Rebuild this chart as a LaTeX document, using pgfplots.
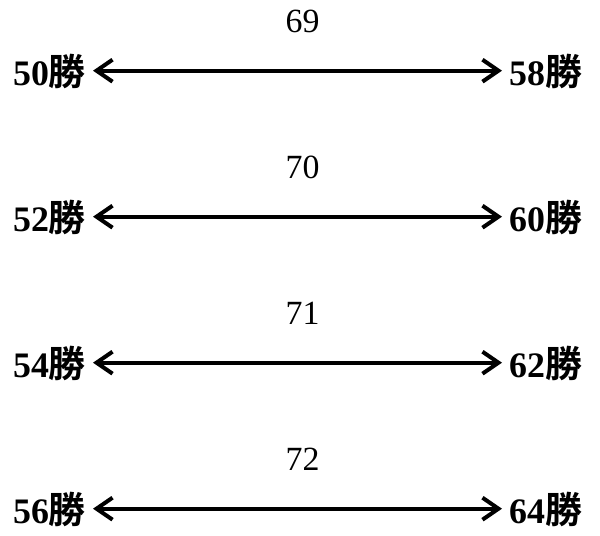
\documentclass[border=0pt]{standalone}
\usepackage{pgfplots}
\pgfplotsset{compat=1.18}
\usepackage{fontspec}
\setmainfont{Liberation Serif}
\newfontfamily\cjk{Noto Sans CJK JP}[BoldFont={* Bold}]
\usetikzlibrary{arrows.meta}
\tikzset{dbl/.style={black, line width=4bp, {Straight Barb[length=16bp,width=22bp]}-{Straight Barb[length=16bp,width=22bp]}},
  top/.style={font=\fontsize{34}{38}\selectfont, inner sep=0pt, anchor=base},
  lab/.style={font=\fontsize{36}{40}\selectfont\bfseries, inner sep=0pt}}
\newcommand{\sho}{{\cjk\bfseries\fontsize{37}{40}\selectfont 勝}}
\begin{document}
\begin{tikzpicture}
\begin{axis}[
  x=1bp, y=1bp,
  xmin=0, xmax=600, ymin=0, ymax=536,
  hide axis, clip=false,
  scale only axis,
]
\path[use as bounding box] (axis cs:0,0) rectangle (axis cs:600,536);
\addplot[dbl] coordinates {(93,465.3) (502,465.3)};
\addplot[dbl] coordinates {(93,319.3) (502,319.3)};
\addplot[dbl] coordinates {(93,173.3) (502,173.3)};
\addplot[dbl] coordinates {(93,27.3) (502,27.3)};
\node[top] at (axis cs:302.5,503.3) {69};
\node[top] at (axis cs:302.5,357.3) {70};
\node[top] at (axis cs:302.5,211.3) {71};
\node[top] at (axis cs:302.5,65.3) {72};
\node[lab, anchor=base east] at (axis cs:86,450.8) {50\sho};
\node[lab, anchor=base west] at (axis cs:509,450.8) {58\sho};
\node[lab, anchor=base east] at (axis cs:86,304.8) {52\sho};
\node[lab, anchor=base west] at (axis cs:509,304.8) {60\sho};
\node[lab, anchor=base east] at (axis cs:86,158.8) {54\sho};
\node[lab, anchor=base west] at (axis cs:509,158.8) {62\sho};
\node[lab, anchor=base east] at (axis cs:86,12.8) {56\sho};
\node[lab, anchor=base west] at (axis cs:509,12.8) {64\sho};
\end{axis}
\end{tikzpicture}
\end{document}
